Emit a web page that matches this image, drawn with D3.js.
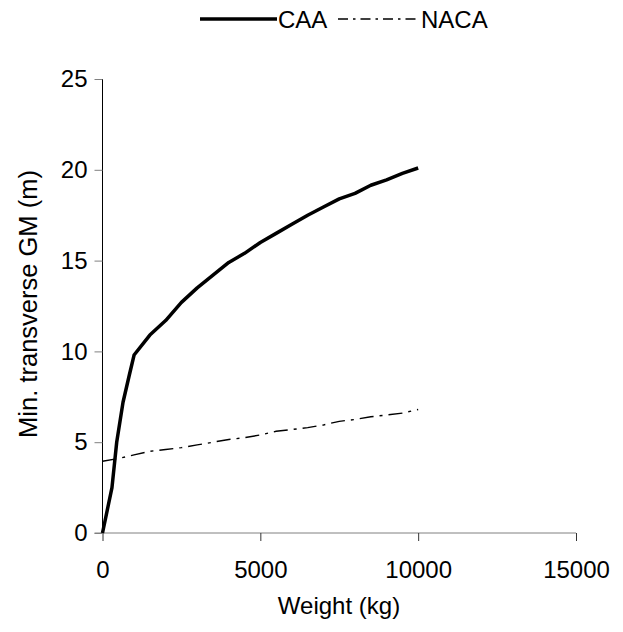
<!DOCTYPE html>
<html>
<head>
<meta charset="utf-8">
<script src="https://cdn.jsdelivr.net/npm/d3@7"></script>
<style>
  body { margin: 0; background: #fff; }
  text { font-family: "Liberation Sans", Arial, sans-serif; fill: #000; }
</style>
</head>
<body>
<svg id="chart" width="623" height="632"></svg>
<script>
// weights (kg) and min. transverse GM (m)
var caaWeight = [0, 300, 450, 650, 850, 1000, 1500, 2000, 2500, 3000, 3500, 4000, 4500, 5000,
                 5500, 6000, 6500, 7000, 7500, 8000, 8500, 9000, 9500, 10000];
var caaGM = [0, 2.5, 5, 7.2, 8.7, 9.8, 10.9, 11.7, 12.7, 13.5, 14.2, 14.9, 15.4, 16.0,
             16.5, 17.0, 17.5, 17.95, 18.4, 18.7, 19.15, 19.45, 19.8, 20.1];

var nacaWeight = [0, 500, 1000, 1500, 2000, 2500, 3000, 3500, 4000, 4500, 5000,
                  5500, 6000, 6500, 7000, 7500, 8000, 8500, 9000, 9500, 10000];
var nacaGM = [3.95, 4.1, 4.3, 4.5, 4.6, 4.7, 4.85, 5.0, 5.15, 5.25, 5.4,
              5.6, 5.7, 5.8, 5.95, 6.15, 6.25, 6.4, 6.5, 6.6, 6.8];

var xTicks = [0, 5000, 10000, 15000];
var yTicks = [0, 5, 10, 15, 20, 25];

var fontSize = "24px";
var svg = d3.select("#chart");

var x = d3.scaleLinear().domain([0, 15000]).range([102.5, 576]);
var y = d3.scaleLinear().domain([0, 25]).range([533, 79]);

// x axis
var gx = svg.append("g")
  .attr("transform", "translate(0," + y(0) + ")")
  .call(d3.axisBottom(x).tickValues(xTicks).tickSize(8).tickPadding(20).tickFormat(d3.format("d")));
gx.select(".domain").attr("stroke", "#808080").attr("d", "M" + (x(0) - 8) + ",0H" + x(15000));
gx.selectAll(".tick line").attr("stroke", "#333");
gx.selectAll(".tick text").style("font-size", fontSize).attr("font-family", null);

// y axis
var gy = svg.append("g")
  .attr("transform", "translate(" + x(0) + ",0)")
  .call(d3.axisLeft(y).tickValues(yTicks).tickSize(8).tickPadding(7));
gy.select(".domain").attr("stroke", "#000").attr("d", "M0," + y(25) + "V" + y(0));
gy.selectAll(".tick line").attr("stroke", "#808080");
gy.selectAll(".tick text").style("font-size", fontSize).attr("font-family", null);

// axis titles
svg.append("text")
  .attr("x", 339).attr("y", 614)
  .attr("text-anchor", "middle")
  .style("font-size", fontSize)
  .text("Weight (kg)");

svg.append("text")
  .attr("transform", "translate(37,304) rotate(-90)")
  .attr("text-anchor", "middle")
  .style("font-size", "25.5px")
  .text("Min. transverse GM (m)");

// series
var line = d3.line()
  .x(function(d) { return x(d[0]); })
  .y(function(d) { return y(d[1]); });

svg.append("path")
  .datum(d3.zip(nacaWeight, nacaGM))
  .attr("fill", "none")
  .attr("stroke", "#000")
  .attr("stroke-width", 1.4)
  .attr("stroke-dasharray", "14,6,3,6")
  .attr("d", line);

svg.append("path")
  .datum(d3.zip(caaWeight, caaGM))
  .attr("fill", "none")
  .attr("stroke", "#000")
  .attr("stroke-width", 3.5)
  .attr("stroke-linejoin", "round")
  .attr("d", line);

// legend
var legend = svg.append("g");
legend.append("line")
  .attr("x1", 200).attr("x2", 277).attr("y1", 19).attr("y2", 19)
  .attr("stroke", "#000").attr("stroke-width", 3.5);
legend.append("text")
  .attr("x", 278).attr("y", 28)
  .style("font-size", fontSize)
  .text("CAA");
legend.append("line")
  .attr("x1", 338).attr("x2", 419).attr("y1", 19).attr("y2", 19)
  .attr("stroke", "#000").attr("stroke-width", 1.3)
  .attr("stroke-dasharray", "10,5,2.5,5");
legend.append("text")
  .attr("x", 421).attr("y", 28)
  .style("font-size", fontSize)
  .text("NACA");
</script>
</body>
</html>
